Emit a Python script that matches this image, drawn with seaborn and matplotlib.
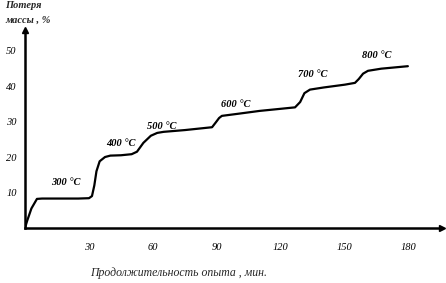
import matplotlib
matplotlib.use("Agg")
import matplotlib.pyplot as plt
import seaborn as sns
import pandas as pd

time_min = [0, 1, 3, 5.6, 8, 15, 25, 30, 31.4, 32.5, 33.5, 35, 37.5, 40, 45, 50, 52.5, 55.5, 59, 62, 65, 75, 87.7, 89.5, 91, 92.3,
            100, 110, 120, 126.6, 129, 131, 133.6, 140, 150, 154.7, 156.5, 158.5, 160.8, 167, 179.5]
mass_loss = [0, 2, 5.5, 8.2, 8.3, 8.3, 8.3, 8.4, 9, 12, 16, 18.8, 20.0, 20.4, 20.5, 20.8, 21.5, 24, 26, 26.8, 27.1, 27.6,
             28.4, 29.8, 31, 31.6, 32.2, 33, 33.6, 34, 35.5, 38, 39, 39.6, 40.4, 40.9, 42, 43.5, 44.3, 44.9, 45.6]
x_ticks = [30, 60, 90, 120, 150, 180]
y_ticks = [10, 20, 30, 40, 50]
temp_labels = ["300 °C", "400 °C", "500 °C", "600 °C", "700 °C", "800 °C"]
temp_label_x = [12, 38, 57, 92, 128, 158]
temp_label_y = [12, 23, 28, 34, 42.5, 48]

df = pd.DataFrame({"t": time_min, "loss": mass_loss})

sns.set_style("white")
plt.rcParams["font.family"] = ["Liberation Serif", "DejaVu Serif"]

fig = plt.figure(figsize=(4.46, 2.83), dpi=100)
ax = fig.add_axes([25/446, 55/283, (442-25)/446, 198/283])
sns.lineplot(data=df, x="t", y="loss", color="black", linewidth=1.6, ax=ax)

ax.set_xlim(0, 195.5)
ax.set_ylim(0, 55.8)
ax.set_xticks(x_ticks)
ax.set_yticks(y_ticks)
ax.set_xticklabels([str(v) for v in x_ticks], fontsize=7.5, style="italic")
ax.set_yticklabels([str(v) for v in y_ticks], fontsize=7.5, style="italic")
ax.tick_params(axis="x", direction="inout", length=5, width=1, pad=8, colors="black")
ax.tick_params(axis="y", direction="out", length=3, width=1, pad=3, colors="black")
for s in ["top", "right"]:
    ax.spines[s].set_visible(False)
for s in ["left", "bottom"]:
    ax.spines[s].set_color("black")
    ax.spines[s].set_linewidth(1.8)
ax.plot(1, 0, ">", color="black", markersize=5, transform=ax.transAxes, clip_on=False)
ax.plot(0, 1, "^", color="black", markersize=5, transform=ax.transAxes, clip_on=False)
ax.set_xlabel("")
ax.set_ylabel("")

for lbl, lx, ly in zip(temp_labels, temp_label_x, temp_label_y):
    ax.text(lx, ly, lbl, fontsize=7.5, style="italic", fontweight="bold", color="black")

fig.text(5/446, 1 - 6/283, "Потеря", fontsize=7.5, style="italic", fontweight="bold", va="center", ha="left")
fig.text(5/446, 1 - 20/283, "массы , %", fontsize=7.5, style="italic", fontweight="bold", va="center", ha="left")
fig.text(90/446, 1 - 273/283, "Продолжительность опыта , мин.", fontsize=8.5, style="italic", va="center", ha="left")

fig.savefig("out.png", dpi=100)
